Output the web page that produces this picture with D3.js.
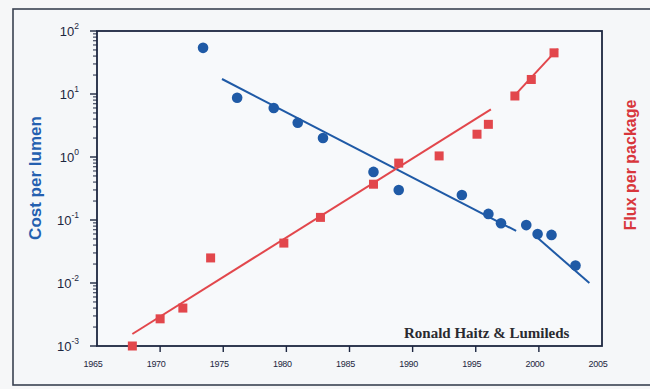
<!DOCTYPE html>
<html><head><meta charset="utf-8">
<script src="https://cdn.jsdelivr.net/npm/d3@7"></script>
<style>body{margin:0;background:#fff}svg{display:block}</style>
</head><body><svg id="c" width="650" height="389"></svg>
<script>
// Data
const costYears  = [1973.4, 1976.1, 1979.0, 1980.9, 1982.9, 1986.9, 1988.9, 1993.9, 1996.0, 1997.0, 1999.0, 1999.9, 2001.0, 2002.9];
const costValues = [54, 8.7, 6.0, 3.5, 2.0, 0.58, 0.30, 0.25, 0.125, 0.089, 0.083, 0.060, 0.058, 0.019];
const fluxYears  = [1967.8, 1970.0, 1971.8, 1974.0, 1979.8, 1982.7, 1986.9, 1988.9, 1992.1, 1995.1, 1996.0, 1998.1, 1999.4, 2001.2];
const fluxValues = [0.001, 0.0027, 0.0040, 0.025, 0.043, 0.11, 0.37, 0.80, 1.04, 2.3, 3.3, 9.3, 17, 45];
const costFit1 = [[1974.9, 17.3], [1998.2, 0.067]];
const costFit2 = [[1999.8, 0.054], [2004.0, 0.010]];
const fluxFit1 = [[1967.8, 0.00155], [1996.2, 5.7]];
const fluxFit2 = [[1997.9, 8.7], [2001.5, 52]];
const xTicks = [1965, 1970, 1975, 1980, 1985, 1990, 1995, 2000, 2005];
const yExponents = [-3, -2, -1, 0, 1, 2];
const leftLabel = "Cost per lumen";
const rightLabel = "Flux per package";
const credit = "Ronald Haitz & Lumileds";

const svg = d3.select("#c");
const blue = "#1f5aa6", red = "#e2474c", ink = "#1c2640";
svg.append("rect").attr("width",650).attr("height",389).attr("fill","#f6f7f8");
// outer frame
svg.append("rect").attr("x",13).attr("y",9).attr("width",660).attr("height",376)
  .attr("fill","#f5f7f9").attr("stroke","#3a4252").attr("stroke-width",1.6);

const L=97, R=602, T=31, B=346;
const x = d3.scaleLinear().domain([1965,2005]).range([L,R]);
const y = d3.scaleLog().domain([1e-3,1e2]).range([B,T]);

svg.append("rect").attr("x",L).attr("y",T).attr("width",R-L).attr("height",B-T)
  .attr("fill","#f7f9fb").attr("stroke",ink).attr("stroke-width",1.8);

// y ticks (minor + major)
const minor=[];
for(const e of yExponents.slice(0,-1)) for(let k=2;k<=9;k++) minor.push(k*Math.pow(10,e));
const gy = svg.append("g");
gy.selectAll("line.mi").data(minor).join("line")
  .attr("x1",L-4).attr("x2",L).attr("y1",d=>y(d)).attr("y2",d=>y(d))
  .attr("stroke",ink).attr("stroke-width",1);
gy.selectAll("line.ma").data(yExponents).join("line")
  .attr("x1",L-7).attr("x2",L).attr("y1",d=>y(Math.pow(10,d))).attr("y2",d=>y(Math.pow(10,d)))
  .attr("stroke",ink).attr("stroke-width",1.4);
const yl = gy.selectAll("text").data(yExponents).join("text")
  .attr("x",L-18).attr("y",d=>y(Math.pow(10,d))+5)
  .attr("text-anchor","end").attr("font-family","Liberation Sans, Arial, sans-serif")
  .attr("font-size",13).attr("fill",ink);
yl.append("tspan").text("10");
yl.append("tspan").attr("dy",-7).attr("font-size",8.5).text(d=>d);

// x ticks
const gx = svg.append("g");
gx.selectAll("line").data(xTicks.slice(1,-1)).join("line")
  .attr("x1",d=>x(d)).attr("x2",d=>x(d)).attr("y1",B).attr("y2",B+6)
  .attr("stroke",ink).attr("stroke-width",1.4);
gx.selectAll("text").data(xTicks).join("text")
  .attr("x",d=>x(d)-4).attr("y",B+21).attr("text-anchor","middle")
  .attr("font-family","Liberation Sans Narrow, Liberation Sans, sans-serif")
  .attr("font-size",9).attr("fill",ink).attr("letter-spacing",-0.3).text(d=>d);

// fit lines
const line = d3.line().x(d=>x(d[0])).y(d=>y(d[1]));
[[costFit1,blue],[costFit2,blue],[fluxFit1,red],[fluxFit2,red]].forEach(([d,c])=>{
  svg.append("path").datum(d).attr("d",line).attr("fill","none").attr("stroke",c).attr("stroke-width",2);
});

// points
svg.append("g").selectAll("circle").data(costYears.map((v,i)=>[v,costValues[i]])).join("circle")
  .attr("cx",d=>x(d[0])).attr("cy",d=>y(d[1])).attr("r",5.3).attr("fill",blue);
svg.append("g").selectAll("rect").data(fluxYears.map((v,i)=>[v,fluxValues[i]])).join("rect")
  .attr("x",d=>x(d[0])-4.5).attr("y",d=>y(d[1])-4.5).attr("width",9).attr("height",9).attr("fill",red);

// labels
svg.append("text").attr("transform","translate(41,178) rotate(-90)").attr("text-anchor","middle")
  .attr("font-family","Liberation Sans, Arial, sans-serif").attr("font-weight","bold")
  .attr("font-size",17).attr("fill","#2460b0").text(leftLabel);
svg.append("text").attr("transform","translate(636,165) rotate(-90)").attr("text-anchor","middle")
  .attr("font-family","Liberation Sans, Arial, sans-serif").attr("font-weight","bold")
  .attr("font-size",16).attr("fill","#d8363c").text(rightLabel);
svg.append("text").attr("x",404).attr("y",338)
  .attr("font-family","Liberation Serif, Times New Roman, serif").attr("font-weight","bold")
  .attr("font-size",15).attr("fill","#2a2a30").text(credit);
</script></body></html>
